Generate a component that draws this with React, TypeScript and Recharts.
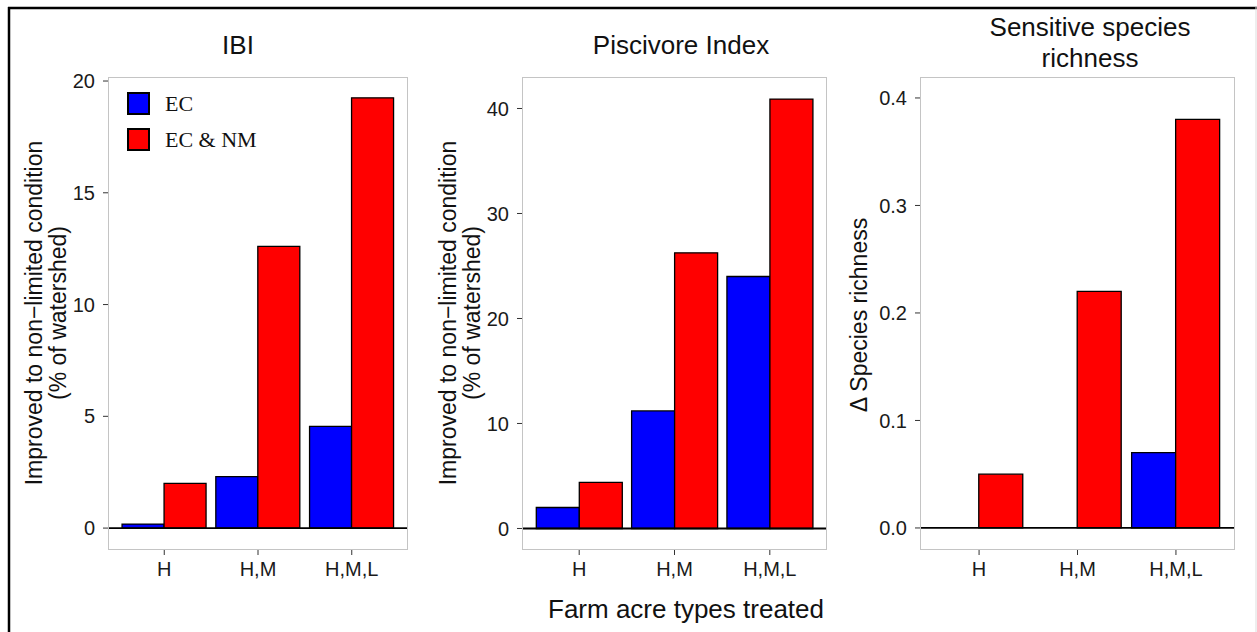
import React from "react";
import { BarChart, Bar, XAxis, YAxis, ReferenceLine } from "recharts";

const categories = ["H", "H,M", "H,M,L"];

// IBI
const ibiEC = [0.18, 2.3, 4.55];
const ibiECNM = [2.0, 12.6, 19.25];
const ibiTicks = [0, 5, 10, 15, 20];

// Piscivore Index
const piscEC = [2.0, 11.2, 24.0];
const piscECNM = [4.4, 26.25, 40.9];
const piscTicks = [0, 10, 20, 30, 40];

// Sensitive species richness
const richEC = [0, 0, 0.07];
const richECNM = [0.05, 0.22, 0.38];
const richTicks = [0, 0.1, 0.2, 0.3, 0.4];

const seriesNames = ["EC", "EC & NM"];

const BLUE = "#0000ff";
const RED = "#ff0000";
const seriesColors = [BLUE, RED];
const SANS = "'Liberation Sans', Arial, sans-serif";
const SERIF = "'Liberation Serif', 'Times New Roman', serif";

const PLOT_TOP = 77;
const PLOT_BOTTOM = 550;
const AXIS_W = 60;
const XAXIS_H = 30;

function LegendBox() {
  return (
    <div style={{ position: "absolute", left: 127, top: 92, display: "flex", flexDirection: "column", gap: 13 }}>
      {seriesNames.map((name, i) => (
        <div key={name} style={{ display: "flex", alignItems: "center", height: 23 }}>
          <span
            style={{
              width: 19,
              height: 19,
              border: "2px solid #000",
              background: seriesColors[i],
              display: "inline-block",
            }}
          />
          <span style={{ marginLeft: 15, fontFamily: SERIF, fontSize: 22, color: "#111" }}>{name}</span>
        </div>
      ))}
    </div>
  );
}

function Panel({
  x0,
  width,
  plotLeft,
  plotRight,
  ec,
  ecnm,
  domain,
  ticks,
  fmt,
}: {
  x0: number;
  width: number;
  plotLeft: number;
  plotRight: number;
  ec: number[];
  ecnm: number[];
  domain: [number, number];
  ticks: number[];
  fmt: (v: number) => string;
}) {
  const data = categories.map((c, i) => ({ cat: c, ec: ec[i], ecnm: ecnm[i] }));
  const plotW = plotRight - plotLeft;
  // ggplot discrete axis: 0.6 units expansion, so 0.1 band outside each end
  const pad = plotW / 32;
  const tickStyle = { fontSize: 20, fill: "#1a1a1a", fontFamily: SANS };
  return (
    <div style={{ position: "absolute", left: x0, top: 0, width, height: 632 }}>
      <BarChart
        width={width}
        height={632}
        data={data}
        margin={{
          top: PLOT_TOP,
          left: plotLeft - x0 - AXIS_W,
          right: x0 + width - plotRight,
          bottom: 632 - PLOT_BOTTOM - XAXIS_H,
        }}
        barCategoryGap="5%"
        barGap={0}
      >
        <XAxis
          dataKey="cat"
          height={XAXIS_H}
          padding={{ left: pad, right: pad }}
          axisLine={false}
          tickLine={{ stroke: "#333" }}
          tickSize={5}
          tickMargin={7}
          interval={0}
          tick={tickStyle}
        />
        <YAxis
          type="number"
          width={AXIS_W}
          domain={domain}
          ticks={ticks}
          allowDataOverflow
          axisLine={false}
          tickLine={{ stroke: "#333" }}
          tickSize={5}
          tickMargin={8}
          tickFormatter={fmt}
          tick={tickStyle}
        />
        <Bar dataKey="ec" name={seriesNames[0]} fill={BLUE} stroke="#000" strokeWidth={1.3} isAnimationActive={false} />
        <Bar dataKey="ecnm" name={seriesNames[1]} fill={RED} stroke="#000" strokeWidth={1.3} isAnimationActive={false} />
        <ReferenceLine y={0} stroke="#000" strokeWidth={1.8} />
      </BarChart>
      <div
        style={{
          position: "absolute",
          left: plotLeft - x0,
          top: PLOT_TOP,
          width: plotW,
          height: PLOT_BOTTOM - PLOT_TOP,
          border: "1px solid #c4c4c4",
          boxSizing: "border-box",
          pointerEvents: "none",
        }}
      />
    </div>
  );
}

export default function App() {
  const txt = { fontFamily: SANS, fill: "#111" };
  return (
    <div style={{ position: "relative", width: 1257, height: 632, background: "#fff", overflow: "hidden" }}>
      <style>{"body{margin:0}"}</style>
      <Panel
        x0={0}
        width={420}
        plotLeft={108}
        plotRight={408}
        ec={ibiEC}
        ecnm={ibiECNM}
        domain={[-0.98, 20.18]}
        ticks={ibiTicks}
        fmt={(v) => String(v)}
      />
      <Panel
        x0={420}
        width={420}
        plotLeft={522}
        plotRight={827}
        ec={piscEC}
        ecnm={piscECNM}
        domain={[-2.05, 43.0]}
        ticks={piscTicks}
        fmt={(v) => String(v)}
      />
      <Panel
        x0={840}
        width={417}
        plotLeft={920}
        plotRight={1235}
        ec={richEC}
        ecnm={richECNM}
        domain={[-0.0205, 0.4195]}
        ticks={richTicks}
        fmt={(v) => v.toFixed(1)}
      />
      <LegendBox />
      <svg
        width={1257}
        height={632}
        style={{ position: "absolute", left: 0, top: 0, pointerEvents: "none" }}
      >
        <text x={238} y={45} fontSize={26} textAnchor="middle" dominantBaseline="central" {...txt}>IBI</text>
        <text x={681} y={45} fontSize={26} textAnchor="middle" dominantBaseline="central" {...txt}>Piscivore Index</text>
        <text x={1090} y={27} fontSize={26} textAnchor="middle" dominantBaseline="central" {...txt}>Sensitive species</text>
        <text x={1090} y={58} fontSize={26} textAnchor="middle" dominantBaseline="central" {...txt}>richness</text>

        <g transform="translate(34,313) rotate(-90)">
          <text x={0} y={0} fontSize={23} textAnchor="middle" dominantBaseline="central" {...txt}>Improved to non−limited condition</text>
        </g>
        <g transform="translate(58,313) rotate(-90)">
          <text x={0} y={0} fontSize={23} textAnchor="middle" dominantBaseline="central" {...txt}>(% of watershed)</text>
        </g>
        <g transform="translate(448,313) rotate(-90)">
          <text x={0} y={0} fontSize={23} textAnchor="middle" dominantBaseline="central" {...txt}>Improved to non−limited condition</text>
        </g>
        <g transform="translate(472,313) rotate(-90)">
          <text x={0} y={0} fontSize={23} textAnchor="middle" dominantBaseline="central" {...txt}>(% of watershed)</text>
        </g>
        <g transform="translate(859,315) rotate(-90)">
          <text x={0} y={0} fontSize={23} textAnchor="middle" dominantBaseline="central" {...txt}>Δ Species richness</text>
        </g>

        <text x={686} y={609} fontSize={26} textAnchor="middle" dominantBaseline="central" {...txt}>Farm acre types treated</text>

        <line x1={8} y1={8} x2={1257} y2={8} stroke="#000" strokeWidth={2.5} />
        <line x1={9} y1={7} x2={9} y2={632} stroke="#000" strokeWidth={2.5} />
        <line x1={1256} y1={7} x2={1256} y2={632} stroke="#ddd" strokeWidth={1} />
      </svg>
    </div>
  );
}
